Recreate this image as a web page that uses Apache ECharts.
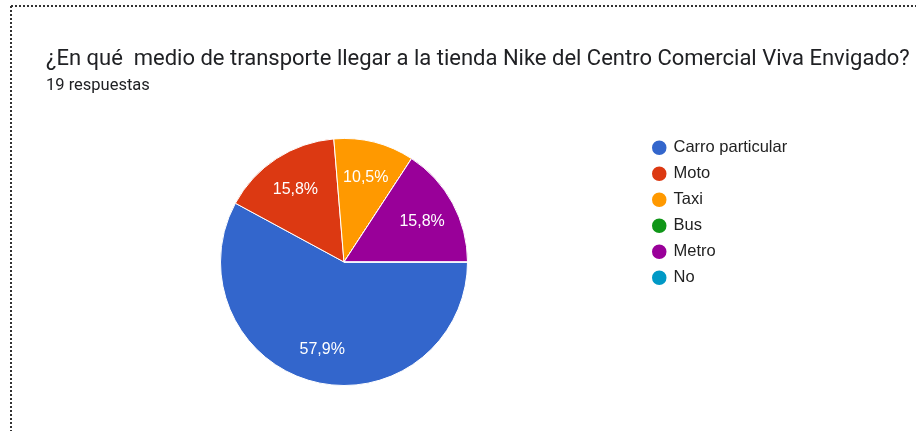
<!DOCTYPE html>
<html>
<head>
<meta charset="utf-8">
<script src="https://cdn.jsdelivr.net/npm/echarts@6/dist/echarts.min.js"></script>
<style>
  html, body { margin: 0; padding: 0; background: #fff; }
  #chart { width: 916px; height: 431px; }
</style>
</head>
<body>
<div id="chart"></div>
<script>
// Survey answers: transport used to reach the store
const categories = ['Carro particular', 'Moto', 'Taxi', 'Bus', 'Metro', 'No'];
const counts = [11, 3, 2, 0, 3, 0];
const colors = ['#3366cc', '#dc3912', '#ff9900', '#109618', '#990099', '#0099c6'];
const titleText = '¿En qué  medio de transporte llegar a la tienda Nike del Centro Comercial Viva Envigado?';
const subtitleText = '19 respuestas';

const total = counts.reduce((a, b) => a + b, 0);
const pieData = categories.map((name, i) => ({
  name: name,
  value: counts[i],
  itemStyle: { color: colors[i] }
}));

function pctLabel(p) {
  if (!p.value) return '';
  return (p.value / total * 100).toFixed(1).replace('.', ',') + '%';
}

const cx = 344, cy = 262, r = 123.5;

const chart = echarts.init(document.getElementById('chart'), null, { renderer: 'canvas' });
chart.setOption({
  animation: false,
  backgroundColor: '#ffffff',
  title: [
    {
      text: titleText,
      left: 41, top: 43,
      textStyle: { fontFamily: 'Roboto', fontSize: 22, fontWeight: 'normal', color: '#202124' }
    },
    {
      text: subtitleText,
      left: 41, top: 72,
      textStyle: { fontFamily: 'Roboto', fontSize: 16.5, fontWeight: 'normal', color: '#202124' }
    }
  ],
  legend: {
    orient: 'vertical',
    left: 645, top: 133.5,
    icon: 'circle',
    itemWidth: 16.5, itemHeight: 16.5,
    itemGap: 7.5,
    selectedMode: false,
    data: categories,
    textStyle: { fontFamily: 'Liberation Sans, Arial', fontSize: 16.5, lineHeight: 16, color: '#222222', padding: [0, 0, 0, 1] }
  },
  graphic: [
    { type: 'line', shape: { x1: 11, y1: 6, x2: 916, y2: 6 },
      style: { stroke: '#333', lineWidth: 2, lineDash: [2, 2] }, silent: true },
    { type: 'line', shape: { x1: 11, y1: 6, x2: 11, y2: 431 },
      style: { stroke: '#333', lineWidth: 2, lineDash: [2, 2] }, silent: true }
  ],
  series: [
    {
      type: 'pie',
      center: [cx, cy],
      radius: [0, r],
      startAngle: 0,
      clockwise: true,
      avoidLabelOverlap: false,
      itemStyle: { borderColor: '#ffffff', borderWidth: 1 },
      label: { show: false },
      labelLine: { show: false },
      emphasis: { disabled: true },
      data: pieData
    },
    {
      // transparent ring that only places the percentage labels
      type: 'pie',
      center: [cx, cy],
      radius: [r * 0.39, r],
      startAngle: 0,
      clockwise: true,
      silent: true,
      avoidLabelOverlap: false,
      itemStyle: { color: 'rgba(0,0,0,0)', borderWidth: 0 },
      label: {
        show: true,
        position: 'inside',
        formatter: pctLabel,
        offset: [0, 1.5],
        fontFamily: 'Liberation Sans, Arial',
        fontSize: 16,
        color: '#ffffff'
      },
      labelLine: { show: false },
      emphasis: { disabled: true },
      data: categories.map((name, i) => ({ name: name, value: counts[i] }))
    }
  ]
});
</script>
</body>
</html>
